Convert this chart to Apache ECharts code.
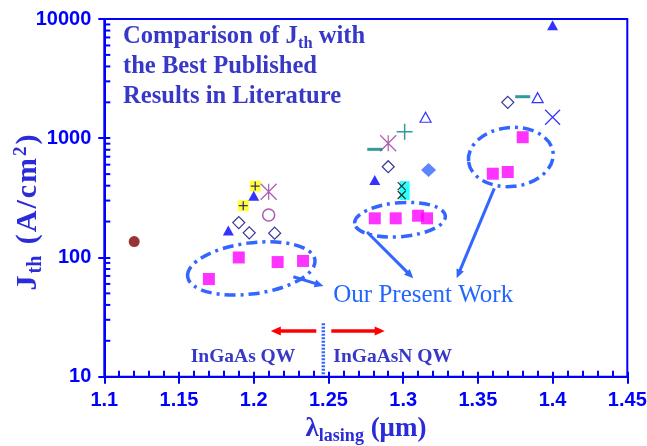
<!DOCTYPE html>
<html>
<head>
<meta charset="utf-8">
<script src="https://cdn.jsdelivr.net/npm/echarts@6/dist/echarts.min.js"></script>
<style>
  html, body { margin: 0; padding: 0; background: #ffffff; }
  #chart { width: 647px; height: 446px; }
</style>
</head>
<body>
<div id="chart"></div>
<script>
// Axis ranges and tick labels
const xMin = 1.1, xMax = 1.45, xStep = 0.05;
const yMin = 10, yMax = 10000;
const yTickLabels = ['10', '100', '1000', '10000'];
const yMinorMultipliers = [2, 3, 4, 5, 6, 7, 8, 9];

// [lasing wavelength (µm), threshold current density (A/cm²)]
const presentWork    = [[1.170, 66], [1.190, 100], [1.216, 91.5], [1.233, 93.5],
                        [1.281, 213], [1.295, 213], [1.310, 224], [1.316, 213],
                        [1.360, 504], [1.370, 521], [1.380, 1020]];
const filledTriangle = [[1.183, 168], [1.200, 330], [1.281, 447], [1.400, 8850]];
const openTriangle   = [[1.315, 1500], [1.390, 2190]];
const openDiamond    = [[1.190, 196], [1.197, 161], [1.214, 160], [1.290, 577], [1.370, 2000]];
const filledDiamond  = [[1.317, 542]];
const yellowPlus     = [[1.193, 272], [1.201, 397]];
const starMarker     = [[1.210, 356], [1.290, 907]];
const openCircle     = [[1.210, 227]];
const tealPlus       = [[1.301, 1135]];
const tealDash       = [[1.281, 807], [1.380, 2230]];
const blueCross      = [[1.400, 1500]];
const cyanSquare     = [[1.301, 397], [1.301, 334]];
const blackCross     = [[1.299, 397], [1.299, 334]];
const darkCircle     = [[1.120, 136]];

const BLUE = '#0000ff';
const TEXT_BLUE = '#3838c8';
const TITLE_BLUE = '#2b2bd9';
const NOTE_BLUE = '#3366ff';
const SERIF = '"Liberation Serif", "Times New Roman", serif';
const SANS = '"Liberation Sans", Arial, sans-serif';

const PLUS = 'path://M5,0L5,10M0,5L10,5';
const CROSS = 'path://M0,0L10,10M10,0L0,10';
const STAR = 'path://M0,0L10,10M10,0L0,10M5,0L5,10';

function scatter(name, data, symbol, size, itemStyle, z) {
  return {
    type: 'scatter', name, data, symbol, symbolSize: size, itemStyle,
    z: z || 2, silent: true, animation: false,
    emphasis: { disabled: true }
  };
}

const chart = echarts.init(document.getElementById('chart'), null, { renderer: 'canvas' });

const grid = { left: 104.3, top: 19, right: 19.7, bottom: 69.3 };

function xAxisBase() {
  return {
    type: 'value', min: xMin, max: xMax, interval: xStep, position: 'bottom',
    splitLine: { show: false }
  };
}
function yAxisBase() {
  return {
    type: 'log', logBase: 10, min: yMin, max: yMax, position: 'left',
    splitLine: { show: false }
  };
}

chart.setOption({
  animation: false,
  backgroundColor: '#ffffff',
  grid: Object.assign({
    show: true, borderColor: BLUE, borderWidth: 2, backgroundColor: 'transparent',
    containLabel: false, outerBoundsMode: 'none'
  }, grid),
  xAxis: [
    Object.assign(xAxisBase(), {
      axisLine: { show: true, lineStyle: { color: BLUE, width: 2 } },
      axisTick: { show: true, inside: false, length: 7, lineStyle: { color: BLUE, width: 2 } },
      minorTick: { show: false },
      axisLabel: {
        show: true, color: BLUE, fontFamily: SANS, fontWeight: 'bold', fontSize: 20, margin: 14,
        formatter: v => String(Math.round(v * 100) / 100)
      }
    }),
    Object.assign(xAxisBase(), {
      axisLine: { show: false },
      axisTick: { show: true, inside: true, length: 5, lineStyle: { color: BLUE, width: 2 } },
      minorTick: { show: true, splitNumber: 5, length: 6, lineStyle: { color: BLUE, width: 2 } },
      axisLabel: { show: false }
    })
  ],
  yAxis: [
    Object.assign(yAxisBase(), {
      axisLine: { show: true, lineStyle: { color: BLUE, width: 2 } },
      axisTick: { show: true, inside: false, length: 6, lineStyle: { color: BLUE, width: 2 } },
      axisLabel: {
        show: true, color: BLUE, fontFamily: SANS, fontWeight: 'bold', fontSize: 20, margin: 13,
        formatter: v => yTickLabels[Math.round(Math.log10(v)) - 1]
      }
    }),
    Object.assign(yAxisBase(), {
      axisLine: { show: false },
      axisTick: { show: true, inside: true, length: 6, lineStyle: { color: BLUE, width: 2 } },
      axisLabel: { show: false }
    })
  ],
  series: [
    scatter('reference', darkCircle, 'circle', 11, { color: '#800000' }),
    scatter('open diamond', openDiamond, 'diamond', 12,
      { color: 'transparent', borderColor: '#000080', borderWidth: 1.2 }),
    scatter('yellow square', yellowPlus, 'rect', 11, { color: '#ffff00' }),
    scatter('yellow square plus', yellowPlus, PLUS, 9,
      { color: 'transparent', borderColor: '#000080', borderWidth: 1.3 }, 3),
    scatter('filled triangle', filledTriangle, 'triangle', [11, 10], { color: BLUE }, 4),
    scatter('star', starMarker, STAR, 16,
      { color: 'transparent', borderColor: '#993399', borderWidth: 1.2 }),
    scatter('open circle', openCircle, 'circle', 12,
      { color: 'transparent', borderColor: '#993399', borderWidth: 1.5 }),
    scatter('teal plus', tealPlus, PLUS, 16,
      { color: 'transparent', borderColor: '#008080', borderWidth: 1.5 }),
    scatter('teal dash', tealDash, 'rect', [15, 3], { color: '#008080' }),
    scatter('open triangle', openTriangle, 'triangle', [11, 10],
      { color: 'transparent', borderColor: BLUE, borderWidth: 1.2 }),
    scatter('filled diamond', filledDiamond, 'diamond', [15, 14], { color: '#3366ff' }),
    scatter('blue cross', blueCross, CROSS, 15,
      { color: 'transparent', borderColor: BLUE, borderWidth: 1.2 }),
    scatter('cyan square', cyanSquare, 'rect', 10, { color: '#00ffff' }),
    scatter('black cross', blackCross, CROSS, 8,
      { color: 'transparent', borderColor: '#000000', borderWidth: 1.2 }, 3),
    scatter('Our Present Work', presentWork, 'rect', 12, { color: '#ff00ff' }, 5)
  ]
});

// Logarithmic minor ticks (2..9 within each decade), drawn inward from the y axis
const minorTicks = [];
for (let decade = yMin; decade < yMax; decade *= 10) {
  yMinorMultipliers.forEach(k => {
    const py = chart.convertToPixel({ yAxisIndex: 0 }, k * decade);
    minorTicks.push({
      type: 'line', silent: true,
      shape: { x1: grid.left, y1: py, x2: grid.left + 6, y2: py },
      style: { stroke: BLUE, lineWidth: 2 }
    });
  });
}

function arrow(x0, y0, x1, y1, color, width, headLen, headHalf) {
  const dx = x1 - x0, dy = y1 - y0, len = Math.hypot(dx, dy);
  const ux = dx / len, uy = dy / len;
  const bx = x1 - ux * headLen, by = y1 - uy * headLen;
  return [
    { type: 'line', silent: true, shape: { x1: x0, y1: y0, x2: bx + ux, y2: by + uy },
      style: { stroke: color, lineWidth: width } },
    { type: 'polygon', silent: true,
      shape: { points: [[x1, y1], [bx - uy * headHalf, by + ux * headHalf], [bx + uy * headHalf, by - ux * headHalf]] },
      style: { fill: color } }
  ];
}

function dashDotEllipse(cx, cy, rx, ry, rotation) {
  return {
    type: 'ellipse', silent: true, x: cx, y: cy, rotation,
    shape: { cx: 0, cy: 0, rx, ry },
    style: { fill: 'none', stroke: NOTE_BLUE, lineWidth: 3.5, lineDash: [11, 5, 3, 5] },
    z: 10
  };
}

function text(x, y, content, rich, opts) {
  return Object.assign({
    type: 'text', silent: true, x, y, z: 10,
    style: Object.assign({
      text: content, rich,
      align: 'left', textAlign: 'left', verticalAlign: 'middle', textVerticalAlign: 'middle'
    }, (opts && opts.style) || {})
  }, (opts && opts.el) || {});
}

const titleRich = {
  m: { fontFamily: SERIF, fontWeight: 'bold', fontSize: 24.6, lineHeight: 30, fill: TEXT_BLUE },
  s: { fontFamily: SERIF, fontWeight: 'bold', fontSize: 16.5, lineHeight: 12, verticalAlign: 'bottom', fill: TEXT_BLUE }
};
// slightly spaced lettering for the vertical axis title
const yTitleRich = {
  m: { fontFamily: SERIF, fontWeight: 'bold', fontSize: 30, lineHeight: 34, fill: TITLE_BLUE, padding: [0, 1, 0, 1] },
  s: { fontFamily: SERIF, fontWeight: 'bold', fontSize: 20, lineHeight: 12, verticalAlign: 'bottom', fill: TITLE_BLUE, padding: [0, 1, 0, 1] },
  p: { fontFamily: SERIF, fontWeight: 'bold', fontSize: 19, lineHeight: 15, verticalAlign: 'top', fill: TITLE_BLUE, padding: [0, 1, 0, 1] }
};
const xTitleRich = {
  m: { fontFamily: SERIF, fontWeight: 'bold', fontSize: 27, lineHeight: 32, fill: TITLE_BLUE },
  s: { fontFamily: SERIF, fontWeight: 'bold', fontSize: 18, lineHeight: 12, verticalAlign: 'bottom', fill: TITLE_BLUE }
};
const labelRich = {
  b: { fontFamily: SERIF, fontWeight: 'bold', fontSize: 19.5, lineHeight: 22, fill: TEXT_BLUE }
};
const noteRich = {
  n: { fontFamily: SERIF, fontSize: 25, lineHeight: 28, fill: '#2266ff' }
};

const graphics = [].concat(
  minorTicks,
  [
    dashDotEllipse(251.3, 268.4, 64.2, 25.5, 0.13),
    dashDotEllipse(400, 219.7, 45.5, 17, 0.08),
    dashDotEllipse(510.8, 157, 42.5, 29.5, 0.1)
  ],
  arrow(293.3, 276.7, 323.5, 286, NOTE_BLUE, 3, 9, 4),
  arrow(367, 232, 413.3, 278.3, NOTE_BLUE, 3, 9, 4),
  arrow(494.3, 188.3, 456.7, 278.3, NOTE_BLUE, 3, 9, 4),
  arrow(316.3, 331, 270.8, 331, '#ff0000', 3.5, 10, 4.5),
  arrow(331.3, 331, 384.7, 331, '#ff0000', 3.5, 10, 4.5),
  [
    { type: 'line', silent: true, z: 10,
      shape: { x1: 323.3, y1: 323.3, x2: 323.3, y2: 375.5 },
      style: { stroke: NOTE_BLUE, lineWidth: 3.5, lineDash: [2, 1.5] } },
    text(123, 21.8,
      '{m|Comparison of J}{s|th}{m| with}\n{m|the Best Published}\n{m|Results in Literature}',
      titleRich, { style: { verticalAlign: 'top', textVerticalAlign: 'top' } }),
    text(333.3, 295.5, '{n|Our Present Work}', noteRich),
    text(190.7, 356.7, '{b|InGaAs QW}', labelRich),
    text(333.3, 356.7, '{b|InGaAsN QW}', labelRich),
    text(28.5, 212.5, '{m|J}{s|th}{m| }{m|(}{m|A}{m|/}{m|c}{m|m}{p|2}{m|)}', yTitleRich,
      { style: { align: 'center', textAlign: 'center' }, el: { rotation: Math.PI / 2 } }),
    text(366, 429, '{m|λ}{s|lasing}{m| (μm)}', xTitleRich,
      { style: { align: 'center', textAlign: 'center' } })
  ]
);

chart.setOption({ graphic: { elements: graphics } });
</script>
</body>
</html>
